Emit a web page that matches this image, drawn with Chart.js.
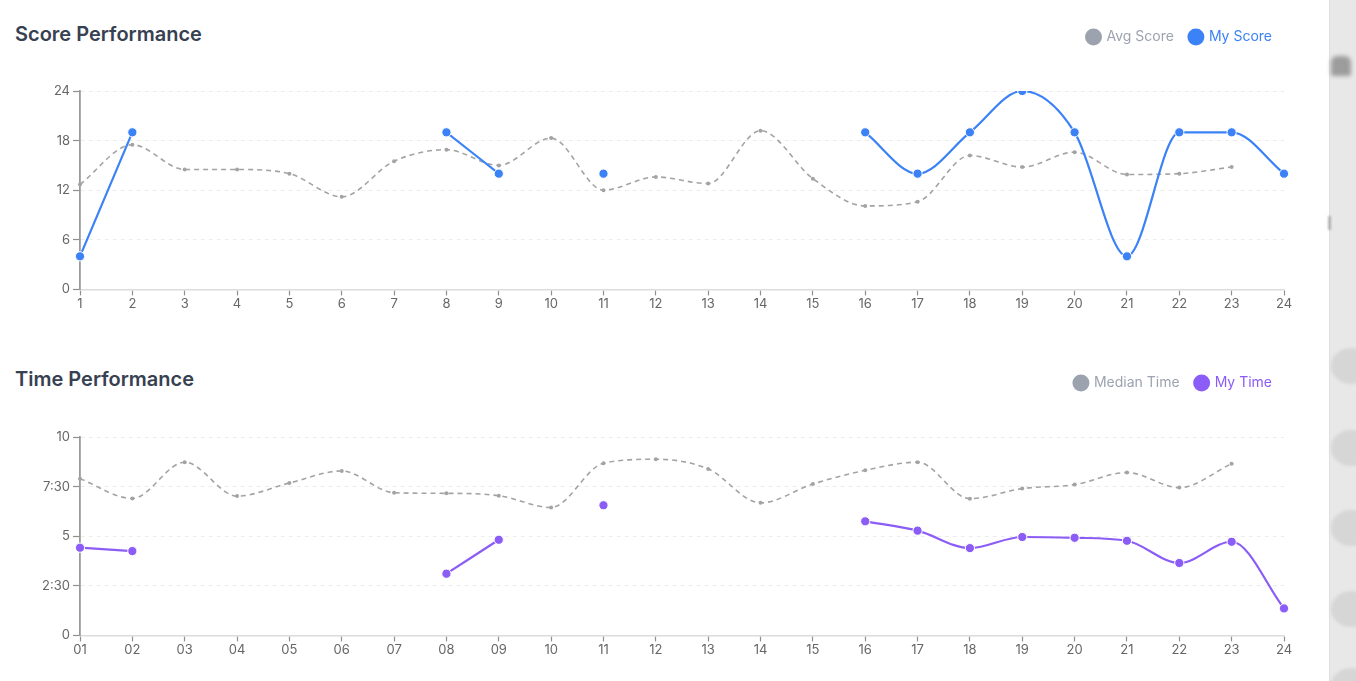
<!DOCTYPE html>
<html>
<head>
<meta charset="utf-8">
<script src="https://cdn.jsdelivr.net/npm/chart.js@4.4.1/dist/chart.umd.min.js"></script>
<style>
  html, body { margin:0; padding:0; background:#fff; }
  body { width:1356px; height:681px; position:relative; overflow:hidden; font-family:Inter, "Noto Sans", sans-serif; }
  .title { position:absolute; left:15px; font-size:20px; font-weight:600; color:#374151; line-height:22px; margin:0; }
  .wrap { position:absolute; left:0; width:1310px; height:336px; }
  .strip { position:absolute; left:1329px; top:0; width:27px; height:681px; background:#e8e8e8; border-left:1px solid #dedede; }
  .blob { position:absolute; left:1331px; width:40px; height:36px; border-radius:50%; background:#d6d6d6; filter:blur(1.5px); }
</style>
</head>
<body>
<div class="strip"></div>
<div class="blob" style="top:348px"></div>
<div class="blob" style="top:430px"></div>
<div class="blob" style="top:510px"></div>
<div class="blob" style="top:591px"></div>
<div class="blob" style="top:668px"></div>
<div style="position:absolute;left:1331px;top:56px;width:20px;height:20px;background:#8a8a8a;filter:blur(2px);border-radius:30% 30% 10% 10%;opacity:0.8"></div>
<div style="position:absolute;left:1328px;top:216px;width:3px;height:14px;background:#9a9a9a;filter:blur(1px);opacity:0.7"></div>

<div class="title" style="top:23px">Score Performance</div>
<div class="wrap" style="top:0"><canvas id="score"></canvas></div>
<div class="title" style="top:368px">Time Performance</div>
<div class="wrap" style="top:346px"><canvas id="time"></canvas></div>

<script>
const scoreLabels = ['1','2','3','4','5','6','7','8','9','10','11','12','13','14','15','16','17','18','19','20','21','22','23','24'];
const avgScore = [12.7,17.5,14.5,14.5,14.0,11.2,15.5,16.9,15.0,18.3,12.0,13.6,12.8,19.2,13.4,10.1,10.6,16.2,14.8,16.6,13.9,14.0,14.8,null];
const myScore  = [4,19,null,null,null,null,null,19,14,null,14,null,null,null,null,19,14,19,24,19,4,19,19,14];
const scoreTicks = [0,6,12,18,24];

const timeLabels = ['01','02','03','04','05','06','07','08','09','10','11','12','13','14','15','16','17','18','19','20','21','22','23','24'];
const medianTime = [7.9,6.9,8.73,7.02,7.68,8.29,7.19,7.16,7.04,6.45,8.68,8.88,8.39,6.68,7.63,8.32,8.73,6.89,7.40,7.60,8.21,7.45,8.65,null];
const myTime     = [4.42,4.25,null,null,null,null,null,3.11,4.82,null,6.56,null,null,null,null,5.75,5.28,4.40,4.96,4.92,4.77,3.65,4.72,1.36];
const timeTicks = [0,2.5,5,7.5,10];

const GRAY = '#9ca3af';
const LINE_GRAY = '#a3a3a3';
const BLUE = '#3b82f6';
const PURPLE = '#8b5cf6';

const legendSpacer = {
  id: 'legendSpacer',
  beforeInit(chart) {
    const fit = chart.legend.fit;
    chart.legend.fit = function () { fit.call(this); this.height += 38; };
  },
  afterLayout(chart) {
    const lg = chart.legend;
    lg.left += 4; lg.right += 4; lg.top += 1; lg.bottom += 1;
  }
};

function fmtTime(v) {
  const m = Math.floor(v);
  const s = Math.round((v - m) * 60);
  return s === 0 ? String(m) : m + ':' + String(s).padStart(2, '0');
}

function makeChart(id, labels, refName, refData, myName, myData, myColor, ticks, fmt) {
  const yMin = ticks[0], yMax = ticks[ticks.length - 1], step = ticks[1] - ticks[0];
  return new Chart(document.getElementById(id), {
    type: 'line',
    data: {
      labels: labels,
      datasets: [
        {
          label: refName, data: refData, order: 1,
          borderColor: LINE_GRAY, backgroundColor: LINE_GRAY, borderWidth: 1.6,
          borderDash: [5, 4], pointRadius: 2, pointBackgroundColor: LINE_GRAY, pointBorderWidth: 0,
          cubicInterpolationMode: 'monotone', spanGaps: false, fill: false
        },
        {
          label: myName, data: myData, order: 0,
          borderColor: myColor, backgroundColor: myColor, borderWidth: 2.2,
          pointRadius: 4.6, pointBackgroundColor: myColor, pointBorderColor: '#ffffff', pointBorderWidth: 1,
          cubicInterpolationMode: 'monotone', spanGaps: false, fill: false
        }
      ]
    },
    options: {
      responsive: true, maintainAspectRatio: false, animation: false,
      layout: { padding: { left: 0, right: 26, top: 13, bottom: 23 } },
      plugins: {
        tooltip: { enabled: false },
        legend: {
          position: 'top', align: 'end',
          labels: {
            usePointStyle: true, pointStyle: 'circle', boxWidth: 12, boxHeight: 12, padding: 16,
            font: { family: 'Inter', size: 14 },
            generateLabels(chart) {
              return chart.data.datasets.map((ds, i) => ({
                text: ds.label, fillStyle: i === 0 ? GRAY : ds.borderColor, strokeStyle: 'rgba(0,0,0,0)',
                lineWidth: 0, pointStyle: 'circle', fontColor: i === 0 ? GRAY : ds.borderColor,
                hidden: false, datasetIndex: i
              }));
            }
          }
        }
      },
      scales: {
        x: {
          grid: { drawOnChartArea: false, drawTicks: true, tickLength: 6, tickColor: '#8f8f8f', tickWidth: 1.2 },
          border: { display: true, color: '#dcdcdc', width: 1.5 },
          ticks: { color: '#666', font: { family: 'Inter', size: 13 }, padding: 1, autoSkip: false, maxRotation: 0 }
        },
        y: {
          min: yMin, max: yMax,
          afterFit(scale) { scale.width = 80; },
          afterBuildTicks(scale) { scale.ticks = ticks.map(v => ({ value: v })); },
          grid: { color: '#ececec', lineWidth: 1, drawTicks: true, tickLength: 7, tickColor: '#8f8f8f', tickWidth: 1.2 },
          border: { display: true, color: '#9a9a9a', width: 1.8, dash: [4, 4] },
          ticks: { color: '#666', font: { family: 'Inter', size: 13 }, padding: 3, stepSize: step, callback: fmt }
        }
      }
    },
    plugins: [legendSpacer]
  });
}

makeChart('score', scoreLabels, 'Avg Score', avgScore, 'My Score', myScore, BLUE, scoreTicks, v => String(v));
makeChart('time', timeLabels, 'Median Time', medianTime, 'My Time', myTime, PURPLE, timeTicks, fmtTime);
</script>
</body>
</html>
